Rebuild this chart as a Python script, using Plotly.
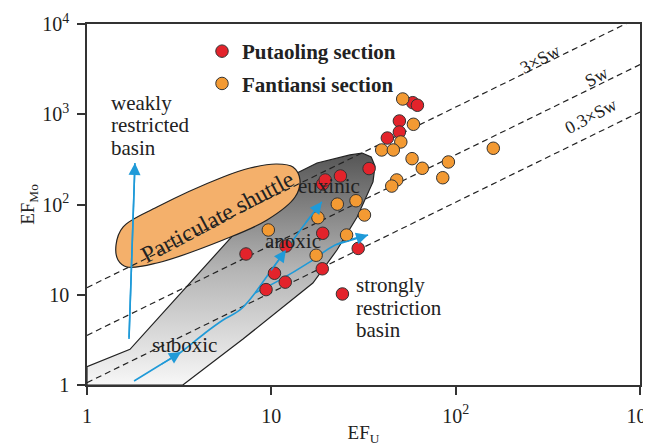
import numpy as np
import plotly.graph_objects as go

# ---------------- data ----------------
put_u = [58.5, 62.0, 49.5, 49.5, 42.6, 33.9, 23.7, 19.0, 19.6, 19.0, 12.0, 7.29, 29.6, 18.9, 10.4, 11.9, 9.36, 24.3]
put_mo = [1343, 1257, 842, 636, 545, 250, 207, 169, 187, 48.0, 34.7, 28.3, 32.6, 19.4, 17.3, 13.8, 11.4, 10.2]

fan_u = [51.6, 59.0, 50.4, 39.7, 45.9, 58.0, 91.3, 160, 65.9, 85.1, 47.9, 45.0, 22.8, 28.8, 32.0, 25.6, 17.9, 9.63, 17.5]
fan_mo = [1476, 774, 493, 402, 402, 322, 296, 420, 252, 198, 187, 160, 101, 110, 76.5, 45.9, 71.4, 52.2, 27.4]

# seawater Mo/U reference lines (EF_Mo at EF_U = 1, slope 1)
sw_names = ["3×Sw", "Sw", "0.3×Sw"]
sw_levels = [12.0, 3.55, 1.06]
sw_x = [1, 1000]

# field outlines (EF_U, EF_Mo)
gray_u = [1, 1, 1.711, 11.57, 17.7, 26.7, 31.1, 34.8, 36.5, 35.6, 29.2, 22.7, 16.8, 7.02, 3.31, 1]
gray_mo = [1, 1.595, 2.487, 186.9, 288, 354, 372, 336, 267, 178, 72.7, 31.3, 13.5, 3.23, 1, 1]

shuttle_u = [1.437, 1.473, 1.648, 2.398, 5.47, 9.48, 13.45, 14.3, 13.1, 10.7, 7.66, 5.47, 2.398, 1.568, 1.437]
shuttle_mo = [35.6, 24.3, 20.3, 22.5, 40.4, 67.3, 121, 187, 260, 281, 254, 202, 93.8, 56.3, 35.6]

# trend arrows
path_s_u = [1.80, 2.49, 3.24, 4.37, 5.47, 6.76, 8.16]
path_s_mo = [1.107, 1.666, 2.32, 3.77, 5.25, 6.78, 10.46]
path_a_u = [8.16, 9.84, 12.0, 15.2, 18.8]
path_a_mo = [10.46, 17.9, 31.3, 60.8, 107]
path_b_u = [8.16, 11.15, 16.2, 22.2, 33.5]
path_b_mo = [10.46, 14.6, 23.1, 35.6, 45.9]
path_v_u = [1.69, 1.82]
path_v_mo = [3.23, 288]

x_ticks = [1, 10, 100, 1000]
x_ticktext = ["1", "10", "10<sup>2</sup>", "10<sup>3</sup>"]
y_ticks = [1, 10, 100, 1000, 10000]
y_ticktext = ["1", "10", "10<sup>2</sup>", "10<sup>3</sup>", "10<sup>4</sup>"]

FONT = "Liberation Serif"
BLUE = "#1f9ad8"
RED = "#e3232b"
ORANGE = "#f39a33"
INK = "#222222"

fig = go.Figure()

# gray redox field with gradient
fig.add_trace(go.Scatter(
    x=gray_u, y=gray_mo, mode="lines", fill="toself",
    line=dict(color=INK, width=1.2),
    fillgradient=dict(type="vertical", colorscale=[[0, "#f7f7f7"], [0.5, "#b4b4b4"], [1, "#555555"]]),
    showlegend=False, hoverinfo="skip"))

# particulate shuttle field
fig.add_trace(go.Scatter(
    x=shuttle_u, y=shuttle_mo, mode="lines", fill="toself",
    line=dict(color=INK, width=1.2, shape="spline", smoothing=1.0),
    fillcolor="#f4b06b", showlegend=False, hoverinfo="skip"))

# seawater lines
for lev in sw_levels:
    fig.add_trace(go.Scatter(
        x=sw_x, y=[lev * v for v in sw_x], mode="lines",
        line=dict(color=INK, width=1.2, dash="6px,4px"),
        showlegend=False, hoverinfo="skip"))

# blue trend curves
for pu, pm in [(path_s_u, path_s_mo), (path_a_u, path_a_mo), (path_b_u, path_b_mo), (path_v_u, path_v_mo)]:
    fig.add_trace(go.Scatter(
        x=pu, y=pm, mode="lines",
        line=dict(color=BLUE, width=1.6, shape="spline"),
        showlegend=False, hoverinfo="skip"))

# data points
fig.add_trace(go.Scatter(
    x=put_u, y=put_mo, mode="markers", name="Putaoling section", legendgroup="a",
    marker=dict(size=12.5, color=RED, line=dict(color="#333333", width=1))))
fig.add_trace(go.Scatter(
    x=fan_u, y=fan_mo, mode="markers", name="Fantiansi section", legendgroup="b",
    marker=dict(size=12.5, color=ORANGE, line=dict(color="#333333", width=1))))

# arrowheads
heads = [
    (path_s_u[1], path_s_mo[1], path_s_u[2], path_s_mo[2]),
    (path_a_u[1], path_a_mo[1], path_a_u[2], path_a_mo[2]),
    (path_a_u[3], path_a_mo[3], path_a_u[4], path_a_mo[4]),
    (path_b_u[3], path_b_mo[3], path_b_u[4], path_b_mo[4]),
    (path_v_u[0], path_v_mo[0], path_v_u[1], path_v_mo[1]),
]
for u0, m0, u1, m1 in heads:
    fig.add_annotation(
        x=np.log10(u1), y=np.log10(m1), ax=np.log10(u0), ay=np.log10(m0),
        xref="x", yref="y", axref="x", ayref="y", text="",
        showarrow=True, arrowhead=2, arrowsize=1.6, arrowwidth=1.5, arrowcolor=BLUE)

# page is offset by the default body margin of the html page
OX, OY = 8, 8

def label(txt, px, py, size=21, angle=0, xanchor="center", align="center"):
    fig.add_annotation(
        x=(px - 87) / 553, y=(385 - py) / 361, xref="paper", yref="paper",
        text=txt, showarrow=False, textangle=angle, xanchor=xanchor, yanchor="middle",
        align=align, font=dict(family=FONT, size=size, color=INK))

for i, t in enumerate(["weakly", "restricted", "basin"]):
    label(t, 109, 103 + 22.5 * i, xanchor="left", align="left")
label("Particulate shuttle", 217, 217, size=23.5, angle=-28)
label("euxinic", 329, 186)
label("anoxic", 293, 241)
label("suboxic", 184, 345)
for i, t in enumerate(["strongly", "restriction", "basin"]):
    label(t, 354, 285 + 22.5 * i, xanchor="left", align="left")
for name, (px, py) in zip(sw_names, [(540, 59), (596, 77), (591, 116)]):
    label(name, px, py, size=18, angle=-28)

axis_common = dict(
    type="log", showgrid=False, zeroline=False, showline=True, mirror=True,
    linecolor="#333333", linewidth=1.5, ticks="outside", ticklen=8,
    tickcolor="#333333", tickwidth=1.5, automargin=False,
    ticklabeloverflow="allow", ticklabelstandoff=4,
    tickfont=dict(family=FONT, size=20, color=INK))

fig.update_xaxes(range=[0, 3], tickvals=x_ticks, ticktext=x_ticktext,
                 title=dict(text="EF<sub>U</sub>", font=dict(family=FONT, size=19, color=INK), standoff=1),
                 **axis_common)
fig.update_yaxes(range=[0, 4], tickvals=y_ticks, ticktext=y_ticktext,
                 title=dict(text="EF<sub>Mo</sub>", font=dict(family=FONT, size=19, color=INK), standoff=3),
                 **axis_common)

fig.update_layout(
    width=651 - OX, height=446 - OY,
    margin=dict(l=87 - OX, r=11, t=24 - OY, b=61),
    plot_bgcolor="white", paper_bgcolor="white",
    legend=dict(x=(202 - 87) / 553, y=(385 - 31) / 361, xanchor="left", yanchor="top",
                bgcolor="rgba(0,0,0,0)", tracegroupgap=2,
                font=dict(family=FONT, size=21, color=INK, weight="bold")),
)

fig.write_html("out.html")
